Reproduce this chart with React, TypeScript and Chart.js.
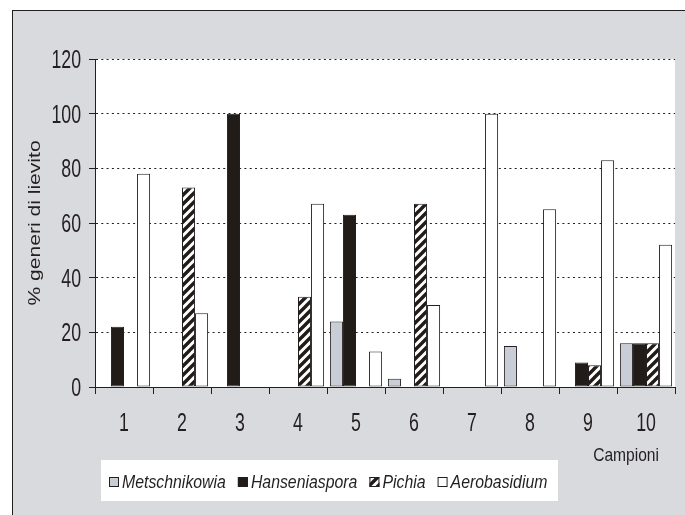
import React, { useEffect, useRef } from "react";
import { Chart, registerables } from "chart.js";

Chart.register(...registerables);

const categories = ["1", "2", "3", "4", "5", "6", "7", "8", "9", "10"];
const seriesNames = ["Metschnikowia", "Hanseniaspora", "Pichia", "Aerobasidium"];
const metschnikowia = [0, 0, 0, 0, 24, 3, 0, 15, 0, 16];
const hanseniaspora = [22, 0, 100, 0, 63, 0, 0, 0, 9, 16];
const pichia = [0, 73, 0, 33, 0, 67, 0, 0, 8, 16];
const aerobasidium = [78, 27, 0, 67, 13, 30, 100, 65, 83, 52];
const yTicks = [0, 20, 40, 60, 80, 100, 120];
const yTitle = "% generi di lievito";
const xTitle = "Campioni";

const INK = "#231f20";
const GREY = "#c9cdd5";
const BLACK = "#221c19";
const PANEL = "#d9dadd";
const SANS = '"Liberation Sans", Arial, sans-serif';

function makeStripePattern(ctx: CanvasRenderingContext2D): CanvasPattern | string {
  const size = 9;
  const c = document.createElement("canvas");
  c.width = size;
  c.height = size;
  const g = c.getContext("2d");
  if (!g) return BLACK;
  g.fillStyle = "#ffffff";
  g.fillRect(0, 0, size, size);
  g.strokeStyle = BLACK;
  g.lineWidth = 3.4;
  g.beginPath();
  g.moveTo(-2, size + 2);
  g.lineTo(size + 2, -2);
  g.moveTo(-2, 2);
  g.lineTo(2, -2);
  g.moveTo(size - 2, size + 2);
  g.lineTo(size + 2, size - 2);
  g.stroke();
  return ctx.createPattern(c, "repeat") || BLACK;
}

function squeezedText(
  ctx: CanvasRenderingContext2D,
  text: string,
  x: number,
  y: number,
  sx: number,
  align: CanvasTextAlign
) {
  ctx.save();
  ctx.translate(x, y);
  ctx.scale(sx, 1);
  ctx.textAlign = align;
  ctx.textBaseline = "alphabetic";
  ctx.fillText(text, 0, 0);
  ctx.restore();
}

const bgPlugin = {
  id: "areaBg",
  beforeDraw(chart: any) {
    const { ctx, chartArea } = chart;
    ctx.save();
    ctx.fillStyle = "#ffffff";
    ctx.fillRect(chartArea.left, chartArea.top, chartArea.right - chartArea.left, chartArea.bottom - chartArea.top);
    ctx.restore();
  },
};

const textPlugin = {
  id: "texts",
  afterDraw(chart: any) {
    const { ctx, chartArea, scales } = chart;
    const fills: any[] = chart.data.datasets.map((d: any) => d.backgroundColor);

    // tick labels
    ctx.save();
    ctx.fillStyle = INK;
    ctx.font = `25px ${SANS}`;
    const ys = scales.y;
    ys.ticks.forEach((t: any) => {
      const py = ys.getPixelForValue(t.value);
      squeezedText(ctx, String(t.label), chartArea.left - 14, py + 9, 0.71, "right");
    });
    const xs = scales.x;
    xs.ticks.forEach((t: any, i: number) => {
      const px = xs.getPixelForTick(i);
      squeezedText(ctx, String(t.label), px, chartArea.bottom + 44, 0.71, "center");
    });
    ctx.restore();

    // y title
    ctx.save();
    ctx.fillStyle = INK;
    ctx.font = `17px ${SANS}`;
    ctx.textAlign = "center";
    ctx.textBaseline = "middle";
    ctx.translate(35, (chartArea.top + chartArea.bottom) / 2);
    ctx.rotate(-Math.PI / 2);
    ctx.scale(1.24, 1);
    ctx.fillText(yTitle, 0, 0);
    ctx.restore();

    // x title
    ctx.save();
    ctx.fillStyle = INK;
    ctx.font = `19px ${SANS}`;
    squeezedText(ctx, xTitle, chartArea.right - 16, chartArea.bottom + 74, 0.82, "right");
    ctx.restore();

    // legend
    const boxL = 101;
    const boxT = 460;
    ctx.save();
    ctx.fillStyle = "#ffffff";
    ctx.fillRect(boxL, boxT, 457, 41);
    ctx.font = `italic 18px ${SANS}`;
    let cx = boxL + 8;
    const sx = 0.88;
    seriesNames.forEach((name, i) => {
      ctx.fillStyle = fills[i];
      ctx.fillRect(cx, 477, 10, 10);
      ctx.strokeStyle = INK;
      ctx.lineWidth = 1;
      ctx.strokeRect(cx + 0.5, 477.5, 9, 9);
      ctx.fillStyle = INK;
      squeezedText(ctx, name, cx + 13, 488, sx, "left");
      cx += 13 + ctx.measureText(name).width * sx + 12;
    });
    ctx.restore();
  },
};

export default function App() {
  const canvasRef = useRef<HTMLCanvasElement | null>(null);

  useEffect(() => {
    document.body.style.margin = "0";
    const canvas = canvasRef.current;
    if (!canvas) return;
    const ctx = canvas.getContext("2d");
    if (!ctx) return;
    const stripe = makeStripePattern(ctx);

    const seriesValues = [metschnikowia, hanseniaspora, pichia, aerobasidium];
    const fills: (string | CanvasPattern)[] = [GREY, BLACK, stripe, "#ffffff"];

    const chart = new Chart(canvas, {
      type: "bar",
      data: {
        labels: categories,
        datasets: seriesNames.map((name, i) => ({
          label: name,
          data: seriesValues[i],
          backgroundColor: fills[i] as any,
          borderColor: INK,
          borderWidth: 1,
          borderSkipped: false,
          categoryPercentage: 0.9,
          barPercentage: 1.0,
        })),
      },
      options: {
        responsive: false,
        animation: false,
        layout: { padding: { left: 0, top: 59, right: 10, bottom: 0 } },
        plugins: {
          legend: { display: false },
          tooltip: { enabled: false },
        },
        scales: {
          x: {
            afterFit: (s: any) => {
              s.height = 128;
            },
            grid: {
              display: true,
              drawOnChartArea: false,
              drawTicks: true,
              tickLength: 7,
              color: INK,
              tickColor: INK,
              offset: true,
            },
            border: { display: true, color: INK, width: 1 },
            ticks: { display: false },
          },
          y: {
            min: 0,
            max: 120,
            afterFit: (s: any) => {
              s.width = 95;
            },
            afterBuildTicks: (s: any) => {
              s.ticks = yTicks.map((v) => ({ value: v }));
            },
            grid: {
              display: true,
              drawOnChartArea: true,
              drawTicks: true,
              tickLength: 6,
              color: INK,
              tickColor: INK,
              tickBorderDash: [],
            },
            border: { display: true, color: INK, width: 1, dash: [2, 3.3] },
            ticks: { display: false },
          },
        },
      },
      plugins: [bgPlugin, textPlugin],
    });

    return () => {
      chart.destroy();
    };
  }, []);

  return (
    <div style={{ position: "relative", width: 685, height: 515, background: "#ffffff", overflow: "hidden" }}>
      <div
        style={{
          position: "absolute",
          left: 12,
          top: 10,
          right: 0,
          bottom: 0,
          background: PANEL,
          borderLeft: `1px solid ${INK}`,
          borderTop: `1px solid ${INK}`,
        }}
      />
      <canvas
        ref={canvasRef}
        width={685}
        height={515}
        style={{ position: "absolute", left: 0, top: 0, width: 685, height: 515 }}
      />
    </div>
  );
}
